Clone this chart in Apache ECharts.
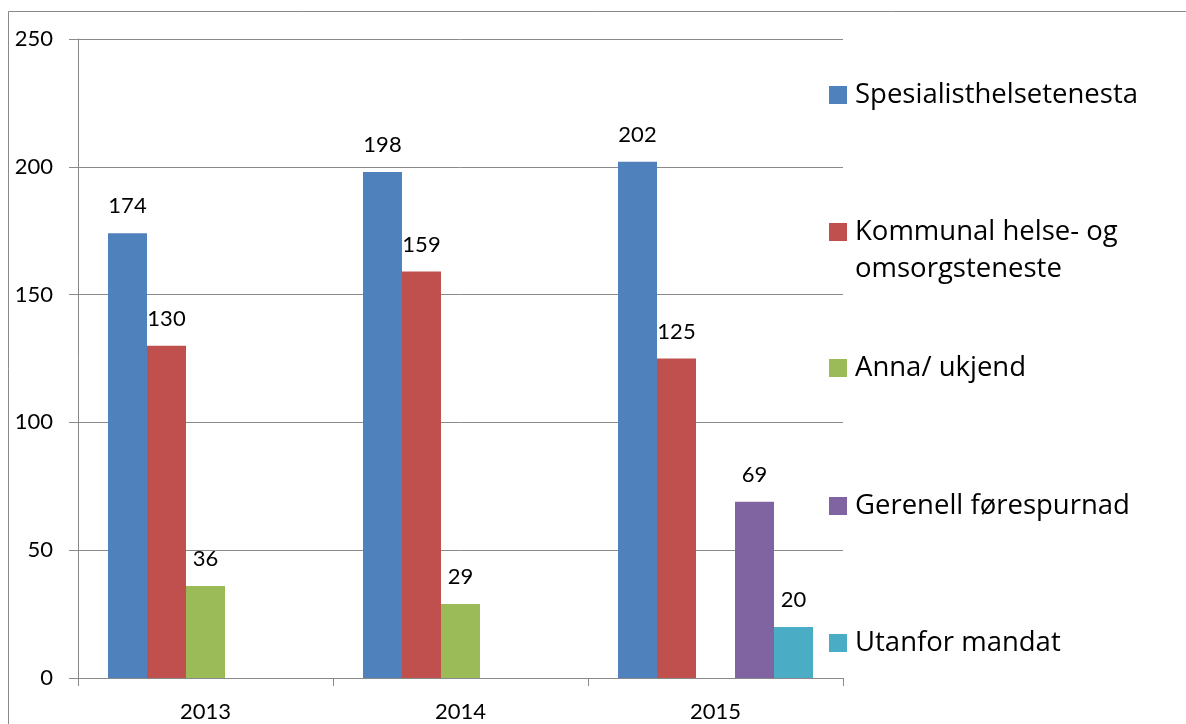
<!DOCTYPE html>
<html>
<head>
<meta charset="utf-8">
<script src="https://cdn.jsdelivr.net/npm/echarts@6/dist/echarts.min.js"></script>
<style>
  html, body { margin: 0; padding: 0; background: #fff; }
  #chart { width: 1186px; height: 724px; }
</style>
</head>
<body>
<div id="chart"></div>
<script>
// data
var years = ['2013', '2014', '2015'];
var spesialist = [174, 198, 202];
var kommunal = [130, 159, 125];
var anna = [36, 29, null];
var gerenell = [null, null, 69];
var utanfor = [null, null, 20];

var names = ['Spesialisthelsetenesta', 'Kommunal helse- og', 'Anna/ ukjend', 'Gerenell førespurnad', 'Utanfor mandat'];
var colors = ['#4F81BD', '#C0504D', '#9BBB59', '#8064A2', '#4BACC6'];
var values = [spesialist, kommunal, anna, gerenell, utanfor];
var legendCenters = [95, 232, 368, 506, 643];

var font = 'Lato';
var legendFont = 'Open Sans';
var grey = '#898989';

var series = values.map(function (v, i) {
    return {
        name: names[i],
        type: 'bar',
        data: v,
        barWidth: 39,
        barGap: '0%',
        itemStyle: { color: colors[i] },
        label: {
            show: true,
            position: 'top',
            distance: 16,
            color: '#000',
            fontFamily: font,
            fontSize: 22
        }
    };
});

var legends = names.map(function (n, i) {
    return {
        data: [n],
        left: 829,
        top: legendCenters[i] - 15,
        padding: 0,
        orient: 'vertical',
        icon: 'rect',
        itemWidth: 18,
        itemHeight: 18,
        selectedMode: false,
        textStyle: {
            fontFamily: legendFont,
            fontSize: 27.5,
            lineHeight: 30,
            color: '#000',
            padding: [0, 0, 0, 3]
        }
    };
});

var myChart = echarts.init(document.getElementById('chart'));
myChart.setOption({
    animation: false,
    backgroundColor: '#fff',
    grid: { left: 78, right: 343, top: 39, bottom: 46 },
    legend: legends,
    graphic: [
        {
            type: 'rect',
            shape: { x: 8.5, y: 11.5, width: 1300, height: 900 },
            style: { fill: 'none', stroke: grey, lineWidth: 1 },
            silent: true
        },
        {
            type: 'text',
            left: 855,
            top: 254,
            style: {
                text: 'omsorgsteneste',
                fontFamily: legendFont,
                fontSize: 27.5,
                lineHeight: 30,
                fill: '#000'
            }
        }
    ],
    xAxis: {
        type: 'category',
        data: years,
        axisLine: { lineStyle: { color: grey } },
        axisTick: { show: true, length: 8, lineStyle: { color: grey } },
        axisLabel: { color: '#000', fontFamily: font, fontSize: 22, margin: 23 }
    },
    yAxis: {
        type: 'value',
        min: 0,
        max: 250,
        interval: 50,
        axisLine: { show: true, lineStyle: { color: grey } },
        axisTick: { show: true, length: 9, lineStyle: { color: grey } },
        splitLine: { lineStyle: { color: grey } },
        axisLabel: { color: '#000', fontFamily: font, fontSize: 22, margin: 25 }
    },
    series: series
});
</script>
</body>
</html>
